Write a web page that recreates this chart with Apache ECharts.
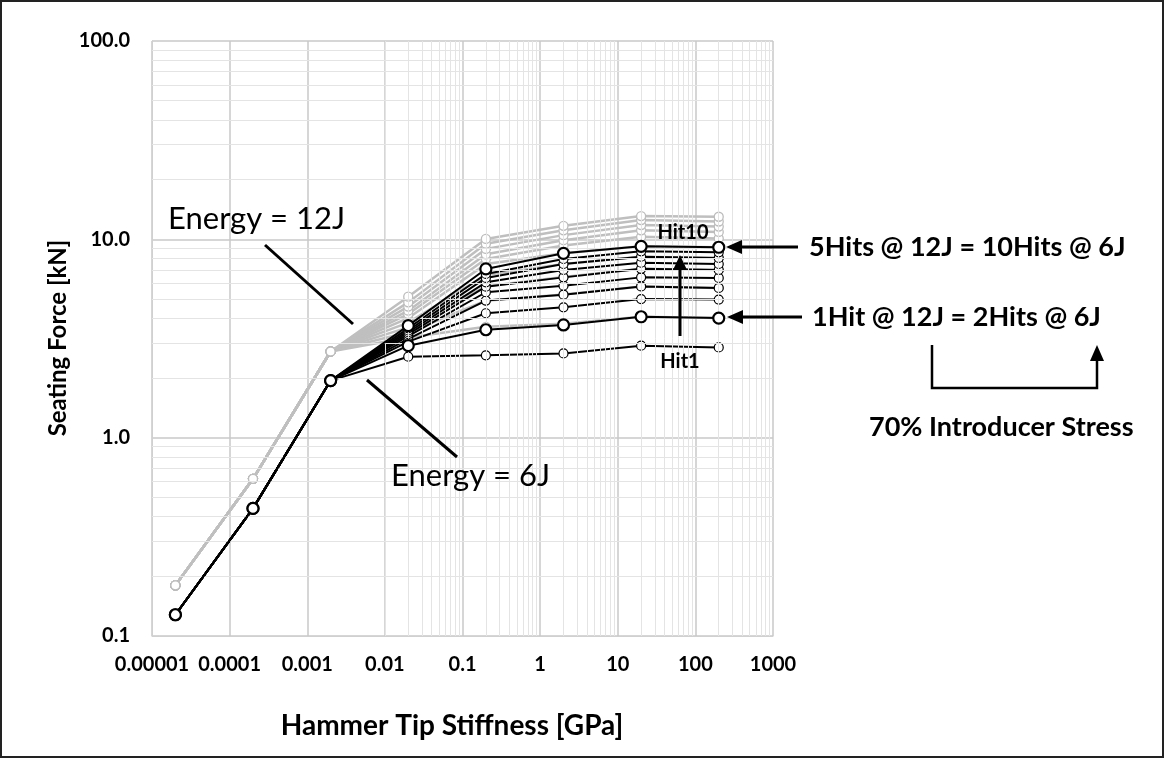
<!DOCTYPE html>
<html>
<head>
<meta charset="utf-8">
<script src="https://cdn.jsdelivr.net/npm/echarts@6/dist/echarts.min.js"></script>
<style>
html,body{margin:0;padding:0;background:#fff;}
#main{width:1165px;height:759px;}
</style>
</head>
<body>
<div id="main"></div>
<script>
// hammer tip stiffness [GPa]
var stiffness = [0.00002, 0.0002, 0.002, 0.02, 0.2, 2, 20, 200];

// first three points are the same for every hit
var common6J = [0.128, 0.44, 1.94];
var common12J = [0.18, 0.62, 2.72];

// seating force [kN] at 0.02, 0.2, 2, 20, 200 GPa, Hit1 .. Hit10
var hits6J = [
	[2.56, 2.60, 2.66, 2.91, 2.85],
	[2.91, 3.50, 3.70, 4.07, 4.01],
	[3.05, 4.24, 4.54, 5.00, 4.97],
	[3.15, 4.91, 5.26, 5.79, 5.69],
	[3.25, 5.41, 5.84, 6.43, 6.39],
	[3.33, 5.77, 6.43, 7.10, 7.01],
	[3.40, 6.07, 7.01, 7.62, 7.51],
	[3.47, 6.39, 7.51, 8.17, 8.06],
	[3.56, 6.69, 7.96, 8.70, 8.60],
	[3.67, 7.09, 8.50, 9.22, 9.12]
];
var hits12J = [
	[3.20, 3.62, 3.75, 4.07, 4.01],
	[3.40, 4.90, 5.27, 5.79, 5.69],
	[3.60, 5.80, 6.46, 7.10, 7.01],
	[3.80, 6.60, 7.52, 8.17, 8.06],
	[4.01, 7.50, 8.50, 9.22, 9.12],
	[4.20, 7.95, 9.30, 10.30, 10.10],
	[4.37, 8.40, 9.90, 11.10, 10.90],
	[4.58, 8.95, 10.50, 11.80, 11.60],
	[4.81, 9.50, 11.10, 12.50, 12.30],
	[5.14, 10.05, 11.70, 13.10, 13.00]
];

var xTickLabels = ['0.00001', '0.0001', '0.001', '0.01', '0.1', '1', '10', '100', '1000'];
var yTickLabels = ['0.1', '1.0', '10.0', '100.0'];

var FONT = 'Lato';

function makeData(common, hit){
	var ys = common.concat(hit);
	var d = [];
	for(var i=0;i<stiffness.length;i++){
		d.push([stiffness[i], ys[i]]);
	}
	return d;
}

// minor grid (2..9 in every decade), excel style
var minorX = [];
for(var e=-5;e<3;e++){
	for(var k=2;k<10;k++){ minorX.push({xAxis: k*Math.pow(10,e)}); }
}
var minorY = [];
for(var e2=-1;e2<2;e2++){
	for(var k2=2;k2<10;k2++){ minorY.push({yAxis: k2*Math.pow(10,e2)}); }
}

var series = [];
// grid helper series (drawn first)
series.push({
	type:'line',
	data:[],
	silent:true,
	z:1,
	markLine:{
		silent:true,
		symbol:'none',
		animation:false,
		label:{show:false},
		lineStyle:{color:'#e4e4e4', width:1, type:'solid'},
		data: minorX.concat(minorY)
	}
});

for(var i=0;i<hits12J.length;i++){
	series.push({
		name:'12J Hit'+(i+1),
		type:'line',
		data:makeData(common12J, hits12J[i]),
		symbol:'circle',
		symbolSize:9,
		z:3,
		lineStyle:{color:'#bfbfbf', width:2.5},
		itemStyle:{color:'#fff', borderColor:'#bcbcbc', borderWidth:1.3}
	});
}
for(var j=0;j<hits6J.length;j++){
	var bold = (j==1 || j==9);
	series.push({
		name:'6J Hit'+(j+1),
		type:'line',
		data:makeData(common6J, hits6J[j]),
		symbol:'circle',
		symbolSize: bold ? 11 : 9,
		z: bold ? 5 : 4,
		lineStyle:{color:'#000', width:2},
		itemStyle:{color:'#fff', borderColor:'#000', borderWidth: bold ? 2.2 : 1.2}
	});
}

var myChart = echarts.init(document.getElementById('main'));
var option = {
	animation:false,
	backgroundColor:'#fff',
	grid:{left:152, right:392, top:41, bottom:123},
	xAxis:{
		type:'log',
		logBase:10,
		min:0.00001,
		max:1000,
		splitNumber:8,
		axisLine:{show:true, onZero:false, lineStyle:{color:'#d0d0d0', width:1}},
		axisTick:{show:false},
		axisLabel:{
			margin:19,
			color:'#000',
			fontFamily:FONT,
			fontWeight:'bold',
			fontSize:20,
			formatter:function(v){ return xTickLabels[Math.round(Math.log10(v))+5]; }
		},
		splitLine:{show:true, lineStyle:{color:'#c8c8c8', width:1.5}}
	},
	yAxis:{
		type:'log',
		logBase:10,
		min:0.1,
		max:100,
		splitNumber:3,
		axisLine:{show:true, lineStyle:{color:'#d0d0d0', width:1}},
		axisTick:{show:false},
		axisLabel:{
			margin:22,
			color:'#000',
			fontFamily:FONT,
			fontWeight:'bold',
			fontSize:20,
			formatter:function(v){ return yTickLabels[Math.round(Math.log10(v))+1]; }
		},
		splitLine:{show:true, lineStyle:{color:'#c8c8c8', width:1.5}}
	},
	series:series,
	graphic:[
		{type:'rect', shape:{x:1, y:1, width:1162, height:756}, style:{fill:'none', stroke:'#222', lineWidth:2}, z:100},
		{type:'text', x:58, y:338, rotation:Math.PI/2, style:{text:'Seating Force [kN]', font:'bold 24px '+FONT, fill:'#000', align:'center', verticalAlign:'middle'}},
		{type:'text', x:452, y:726, style:{text:'Hammer Tip Stiffness [GPa]', font:'bold 28px '+FONT, fill:'#000', align:'center', verticalAlign:'middle'}},

		{type:'text', x:168, y:219, style:{text:'Energy = 12J', font:'31px '+FONT, fill:'#000', align:'left', verticalAlign:'middle'}, z:20},
		{type:'line', shape:{x1:265, y1:245, x2:353, y2:324}, style:{stroke:'#000', lineWidth:3}, z:20},
		{type:'text', x:391, y:476, style:{text:'Energy = 6J', font:'31px '+FONT, fill:'#000', align:'left', verticalAlign:'middle'}, z:20},
		{type:'line', shape:{x1:367, y1:380, x2:457, y2:457}, style:{stroke:'#000', lineWidth:3}, z:20},

		{type:'text', x:683, y:233, style:{text:'Hit10', font:'bold 20px '+FONT, fill:'#000', align:'center', verticalAlign:'middle'}, z:20},
		{type:'text', x:680, y:362, style:{text:'Hit1', font:'bold 20px '+FONT, fill:'#000', align:'center', verticalAlign:'middle'}, z:20},
		{type:'line', shape:{x1:680, y1:336, x2:680, y2:266}, style:{stroke:'#000', lineWidth:3}, z:20},
		{type:'polygon', shape:{points:[[680,255],[673,270],[687,270]]}, style:{fill:'#000'}, z:20},

		{type:'line', shape:{x1:740, y1:247, x2:798, y2:247}, style:{stroke:'#000', lineWidth:3}, z:20},
		{type:'polygon', shape:{points:[[726,247],[742,240],[742,254]]}, style:{fill:'#000'}, z:20},
		{type:'text', x:809, y:247, style:{text:'5Hits @ 12J = 10Hits @ 6J', font:'bold 27px '+FONT, fill:'#000', align:'left', verticalAlign:'middle'}, z:20},

		{type:'line', shape:{x1:741, y1:317, x2:802, y2:317}, style:{stroke:'#000', lineWidth:3}, z:20},
		{type:'polygon', shape:{points:[[727,317],[743,310],[743,324]]}, style:{fill:'#000'}, z:20},
		{type:'text', x:812, y:317, style:{text:'1Hit @ 12J = 2Hits @ 6J', font:'bold 27px '+FONT, fill:'#000', align:'left', verticalAlign:'middle'}, z:20},

		{type:'polyline', shape:{points:[[932,345],[932,388],[1097,388],[1097,360]]}, style:{stroke:'#000', lineWidth:2.5, fill:'none'}, z:20},
		{type:'polygon', shape:{points:[[1097,345],[1090,361],[1104,361]]}, style:{fill:'#000'}, z:20},
		{type:'text', x:869, y:427, style:{text:'70% Introducer Stress', font:'bold 27px '+FONT, fill:'#000', align:'left', verticalAlign:'middle'}, z:20}
	]
};
myChart.setOption(option);
</script>
</body>
</html>
